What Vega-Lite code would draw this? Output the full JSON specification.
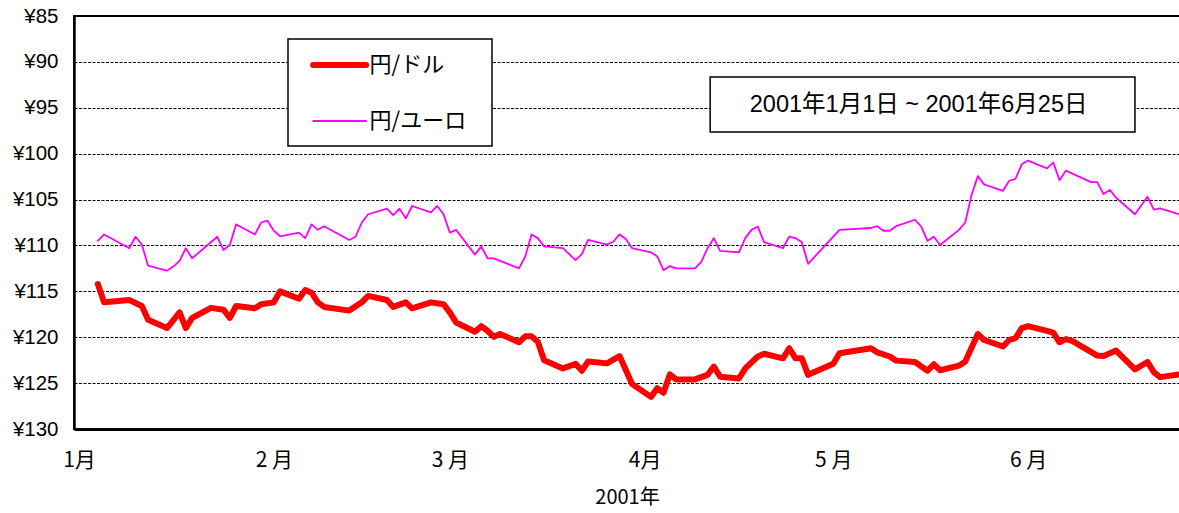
{
  "$schema": "https://vega.github.io/schema/vega-lite/v6.json",
  "autosize": "none",
  "padding": {"left": 74, "top": 16, "right": 0, "bottom": 84},
  "width": 1106,
  "height": 413,
  "background": "white",
  "config": {
    "view": {"stroke": "black", "strokeWidth": 2},
    "axis": {"labelColor": "black", "titleColor": "black"}
  },
  "datasets": {
    "rates": [
      {"date": "2001-01-04", "series": "円/ドル", "rate": 114.2},
      {"date": "2001-01-05", "series": "円/ドル", "rate": 116.2},
      {"date": "2001-01-09", "series": "円/ドル", "rate": 115.95},
      {"date": "2001-01-11", "series": "円/ドル", "rate": 116.6},
      {"date": "2001-01-12", "series": "円/ドル", "rate": 118.1},
      {"date": "2001-01-15", "series": "円/ドル", "rate": 119.0},
      {"date": "2001-01-17", "series": "円/ドル", "rate": 117.3},
      {"date": "2001-01-18", "series": "円/ドル", "rate": 119.0},
      {"date": "2001-01-19", "series": "円/ドル", "rate": 117.9},
      {"date": "2001-01-22", "series": "円/ドル", "rate": 116.8},
      {"date": "2001-01-24", "series": "円/ドル", "rate": 117.0},
      {"date": "2001-01-25", "series": "円/ドル", "rate": 117.9},
      {"date": "2001-01-26", "series": "円/ドル", "rate": 116.6},
      {"date": "2001-01-29", "series": "円/ドル", "rate": 116.85},
      {"date": "2001-01-30", "series": "円/ドル", "rate": 116.4},
      {"date": "2001-02-01", "series": "円/ドル", "rate": 116.2},
      {"date": "2001-02-02", "series": "円/ドル", "rate": 115.0},
      {"date": "2001-02-05", "series": "円/ドル", "rate": 115.8},
      {"date": "2001-02-06", "series": "円/ドル", "rate": 114.85},
      {"date": "2001-02-07", "series": "円/ドル", "rate": 115.15},
      {"date": "2001-02-08", "series": "円/ドル", "rate": 116.2},
      {"date": "2001-02-09", "series": "円/ドル", "rate": 116.7},
      {"date": "2001-02-13", "series": "円/ドル", "rate": 117.1},
      {"date": "2001-02-15", "series": "円/ドル", "rate": 116.2},
      {"date": "2001-02-16", "series": "円/ドル", "rate": 115.5},
      {"date": "2001-02-19", "series": "円/ドル", "rate": 115.95},
      {"date": "2001-02-20", "series": "円/ドル", "rate": 116.7},
      {"date": "2001-02-22", "series": "円/ドル", "rate": 116.2},
      {"date": "2001-02-23", "series": "円/ドル", "rate": 116.85},
      {"date": "2001-02-26", "series": "円/ドル", "rate": 116.2},
      {"date": "2001-02-28", "series": "円/ドル", "rate": 116.4},
      {"date": "2001-03-01", "series": "円/ドル", "rate": 117.3},
      {"date": "2001-03-02", "series": "円/ドル", "rate": 118.4},
      {"date": "2001-03-05", "series": "円/ドル", "rate": 119.4},
      {"date": "2001-03-06", "series": "円/ドル", "rate": 118.8},
      {"date": "2001-03-07", "series": "円/ドル", "rate": 119.3},
      {"date": "2001-03-08", "series": "円/ドル", "rate": 119.95},
      {"date": "2001-03-09", "series": "円/ドル", "rate": 119.65},
      {"date": "2001-03-12", "series": "円/ドル", "rate": 120.55},
      {"date": "2001-03-13", "series": "円/ドル", "rate": 119.9},
      {"date": "2001-03-14", "series": "円/ドル", "rate": 119.9},
      {"date": "2001-03-15", "series": "円/ドル", "rate": 120.5},
      {"date": "2001-03-16", "series": "円/ドル", "rate": 122.5},
      {"date": "2001-03-19", "series": "円/ドル", "rate": 123.4},
      {"date": "2001-03-21", "series": "円/ドル", "rate": 122.9},
      {"date": "2001-03-22", "series": "円/ドル", "rate": 123.65},
      {"date": "2001-03-23", "series": "円/ドル", "rate": 122.65},
      {"date": "2001-03-26", "series": "円/ドル", "rate": 122.85},
      {"date": "2001-03-28", "series": "円/ドル", "rate": 122.05},
      {"date": "2001-03-30", "series": "円/ドル", "rate": 125.1},
      {"date": "2001-04-02", "series": "円/ドル", "rate": 126.5},
      {"date": "2001-04-03", "series": "円/ドル", "rate": 125.55},
      {"date": "2001-04-04", "series": "円/ドル", "rate": 126.05},
      {"date": "2001-04-05", "series": "円/ドル", "rate": 124.05},
      {"date": "2001-04-06", "series": "円/ドル", "rate": 124.6},
      {"date": "2001-04-09", "series": "円/ドル", "rate": 124.6},
      {"date": "2001-04-11", "series": "円/ドル", "rate": 124.1},
      {"date": "2001-04-12", "series": "円/ドル", "rate": 123.2},
      {"date": "2001-04-13", "series": "円/ドル", "rate": 124.3},
      {"date": "2001-04-16", "series": "円/ドル", "rate": 124.5},
      {"date": "2001-04-17", "series": "円/ドル", "rate": 123.4},
      {"date": "2001-04-19", "series": "円/ドル", "rate": 122.1},
      {"date": "2001-04-20", "series": "円/ドル", "rate": 121.8},
      {"date": "2001-04-23", "series": "円/ドル", "rate": 122.3},
      {"date": "2001-04-24", "series": "円/ドル", "rate": 121.2},
      {"date": "2001-04-25", "series": "円/ドル", "rate": 122.3},
      {"date": "2001-04-26", "series": "円/ドル", "rate": 122.3},
      {"date": "2001-04-27", "series": "円/ドル", "rate": 124.1},
      {"date": "2001-05-01", "series": "円/ドル", "rate": 122.9},
      {"date": "2001-05-02", "series": "円/ドル", "rate": 121.75},
      {"date": "2001-05-07", "series": "円/ドル", "rate": 121.2},
      {"date": "2001-05-08", "series": "円/ドル", "rate": 121.65},
      {"date": "2001-05-10", "series": "円/ドル", "rate": 122.1},
      {"date": "2001-05-11", "series": "円/ドル", "rate": 122.55},
      {"date": "2001-05-14", "series": "円/ドル", "rate": 122.7},
      {"date": "2001-05-16", "series": "円/ドル", "rate": 123.65},
      {"date": "2001-05-17", "series": "円/ドル", "rate": 122.95},
      {"date": "2001-05-18", "series": "円/ドル", "rate": 123.6},
      {"date": "2001-05-21", "series": "円/ドル", "rate": 123.1},
      {"date": "2001-05-22", "series": "円/ドル", "rate": 122.65},
      {"date": "2001-05-24", "series": "円/ドル", "rate": 119.65},
      {"date": "2001-05-25", "series": "円/ドル", "rate": 120.3},
      {"date": "2001-05-28", "series": "円/ドル", "rate": 121.0},
      {"date": "2001-05-29", "series": "円/ドル", "rate": 120.3},
      {"date": "2001-05-30", "series": "円/ドル", "rate": 120.1},
      {"date": "2001-05-31", "series": "円/ドル", "rate": 119.0},
      {"date": "2001-06-01", "series": "円/ドル", "rate": 118.8},
      {"date": "2001-06-04", "series": "円/ドル", "rate": 119.3},
      {"date": "2001-06-05", "series": "円/ドル", "rate": 119.5},
      {"date": "2001-06-06", "series": "円/ドル", "rate": 120.55},
      {"date": "2001-06-07", "series": "円/ドル", "rate": 120.2},
      {"date": "2001-06-08", "series": "円/ドル", "rate": 120.4},
      {"date": "2001-06-11", "series": "円/ドル", "rate": 121.6},
      {"date": "2001-06-12", "series": "円/ドル", "rate": 122.0},
      {"date": "2001-06-13", "series": "円/ドル", "rate": 122.05},
      {"date": "2001-06-14", "series": "円/ドル", "rate": 121.75},
      {"date": "2001-06-15", "series": "円/ドル", "rate": 121.45},
      {"date": "2001-06-18", "series": "円/ドル", "rate": 123.5},
      {"date": "2001-06-20", "series": "円/ドル", "rate": 122.7},
      {"date": "2001-06-21", "series": "円/ドル", "rate": 123.8},
      {"date": "2001-06-22", "series": "円/ドル", "rate": 124.35},
      {"date": "2001-06-25", "series": "円/ドル", "rate": 124.05},

      {"date": "2001-01-04", "series": "円/ユーロ", "rate": 109.5},
      {"date": "2001-01-05", "series": "円/ユーロ", "rate": 108.8},
      {"date": "2001-01-09", "series": "円/ユーロ", "rate": 110.3},
      {"date": "2001-01-10", "series": "円/ユーロ", "rate": 109.05},
      {"date": "2001-01-11", "series": "円/ユーロ", "rate": 109.9},
      {"date": "2001-01-12", "series": "円/ユーロ", "rate": 112.2},
      {"date": "2001-01-15", "series": "円/ユーロ", "rate": 112.75},
      {"date": "2001-01-16", "series": "円/ユーロ", "rate": 112.3},
      {"date": "2001-01-17", "series": "円/ユーロ", "rate": 111.7},
      {"date": "2001-01-18", "series": "円/ユーロ", "rate": 110.3},
      {"date": "2001-01-19", "series": "円/ユーロ", "rate": 111.4},
      {"date": "2001-01-23", "series": "円/ユーロ", "rate": 109.05},
      {"date": "2001-01-24", "series": "円/ユーロ", "rate": 110.5},
      {"date": "2001-01-25", "series": "円/ユーロ", "rate": 109.95},
      {"date": "2001-01-26", "series": "円/ユーロ", "rate": 107.7},
      {"date": "2001-01-29", "series": "円/ユーロ", "rate": 108.8},
      {"date": "2001-01-30", "series": "円/ユーロ", "rate": 107.5},
      {"date": "2001-01-31", "series": "円/ユーロ", "rate": 107.3},
      {"date": "2001-02-01", "series": "円/ユーロ", "rate": 108.4},
      {"date": "2001-02-02", "series": "円/ユーロ", "rate": 109.0},
      {"date": "2001-02-05", "series": "円/ユーロ", "rate": 108.6},
      {"date": "2001-02-06", "series": "円/ユーロ", "rate": 109.2},
      {"date": "2001-02-07", "series": "円/ユーロ", "rate": 107.7},
      {"date": "2001-02-08", "series": "円/ユーロ", "rate": 108.3},
      {"date": "2001-02-09", "series": "円/ユーロ", "rate": 107.9},
      {"date": "2001-02-13", "series": "円/ユーロ", "rate": 109.4},
      {"date": "2001-02-14", "series": "円/ユーロ", "rate": 109.05},
      {"date": "2001-02-15", "series": "円/ユーロ", "rate": 107.5},
      {"date": "2001-02-16", "series": "円/ユーロ", "rate": 106.6},
      {"date": "2001-02-19", "series": "円/ユーロ", "rate": 106.0},
      {"date": "2001-02-20", "series": "円/ユーロ", "rate": 106.7},
      {"date": "2001-02-21", "series": "円/ユーロ", "rate": 106.0},
      {"date": "2001-02-22", "series": "円/ユーロ", "rate": 107.05},
      {"date": "2001-02-23", "series": "円/ユーロ", "rate": 105.7},
      {"date": "2001-02-26", "series": "円/ユーロ", "rate": 106.4},
      {"date": "2001-02-27", "series": "円/ユーロ", "rate": 105.7},
      {"date": "2001-02-28", "series": "円/ユーロ", "rate": 106.6},
      {"date": "2001-03-01", "series": "円/ユーロ", "rate": 108.6},
      {"date": "2001-03-02", "series": "円/ユーロ", "rate": 108.3},
      {"date": "2001-03-05", "series": "円/ユーロ", "rate": 111.0},
      {"date": "2001-03-06", "series": "円/ユーロ", "rate": 110.1},
      {"date": "2001-03-07", "series": "円/ユーロ", "rate": 111.4},
      {"date": "2001-03-08", "series": "円/ユーロ", "rate": 111.4},
      {"date": "2001-03-12", "series": "円/ユーロ", "rate": 112.5},
      {"date": "2001-03-13", "series": "円/ユーロ", "rate": 111.2},
      {"date": "2001-03-14", "series": "円/ユーロ", "rate": 108.8},
      {"date": "2001-03-15", "series": "円/ユーロ", "rate": 109.2},
      {"date": "2001-03-16", "series": "円/ユーロ", "rate": 110.1},
      {"date": "2001-03-19", "series": "円/ユーロ", "rate": 110.3},
      {"date": "2001-03-21", "series": "円/ユーロ", "rate": 111.6},
      {"date": "2001-03-22", "series": "円/ユーロ", "rate": 110.95},
      {"date": "2001-03-23", "series": "円/ユーロ", "rate": 109.4},
      {"date": "2001-03-26", "series": "円/ユーロ", "rate": 109.9},
      {"date": "2001-03-27", "series": "円/ユーロ", "rate": 109.6},
      {"date": "2001-03-28", "series": "円/ユーロ", "rate": 108.8},
      {"date": "2001-03-29", "series": "円/ユーロ", "rate": 109.3},
      {"date": "2001-03-30", "series": "円/ユーロ", "rate": 110.3},
      {"date": "2001-04-02", "series": "円/ユーロ", "rate": 110.75},
      {"date": "2001-04-03", "series": "円/ユーロ", "rate": 111.2},
      {"date": "2001-04-04", "series": "円/ユーロ", "rate": 112.7},
      {"date": "2001-04-05", "series": "円/ユーロ", "rate": 112.25},
      {"date": "2001-04-06", "series": "円/ユーロ", "rate": 112.5},
      {"date": "2001-04-09", "series": "円/ユーロ", "rate": 112.5},
      {"date": "2001-04-10", "series": "円/ユーロ", "rate": 111.8},
      {"date": "2001-04-11", "series": "円/ユーロ", "rate": 110.3},
      {"date": "2001-04-12", "series": "円/ユーロ", "rate": 109.2},
      {"date": "2001-04-13", "series": "円/ユーロ", "rate": 110.6},
      {"date": "2001-04-16", "series": "円/ユーロ", "rate": 110.75},
      {"date": "2001-04-17", "series": "円/ユーロ", "rate": 109.2},
      {"date": "2001-04-18", "series": "円/ユーロ", "rate": 108.3},
      {"date": "2001-04-19", "series": "円/ユーロ", "rate": 107.95},
      {"date": "2001-04-20", "series": "円/ユーロ", "rate": 109.65},
      {"date": "2001-04-23", "series": "円/ユーロ", "rate": 110.3},
      {"date": "2001-04-24", "series": "円/ユーロ", "rate": 109.05},
      {"date": "2001-04-25", "series": "円/ユーロ", "rate": 109.2},
      {"date": "2001-04-26", "series": "円/ユーロ", "rate": 109.65},
      {"date": "2001-04-27", "series": "円/ユーロ", "rate": 112.0},
      {"date": "2001-05-02", "series": "円/ユーロ", "rate": 108.3},
      {"date": "2001-05-07", "series": "円/ユーロ", "rate": 108.1},
      {"date": "2001-05-08", "series": "円/ユーロ", "rate": 107.9},
      {"date": "2001-05-09", "series": "円/ユーロ", "rate": 108.4},
      {"date": "2001-05-10", "series": "円/ユーロ", "rate": 108.4},
      {"date": "2001-05-11", "series": "円/ユーロ", "rate": 107.9},
      {"date": "2001-05-14", "series": "円/ユーロ", "rate": 107.2},
      {"date": "2001-05-15", "series": "円/ユーロ", "rate": 107.95},
      {"date": "2001-05-16", "series": "円/ユーロ", "rate": 109.5},
      {"date": "2001-05-17", "series": "円/ユーロ", "rate": 109.05},
      {"date": "2001-05-18", "series": "円/ユーロ", "rate": 109.95},
      {"date": "2001-05-21", "series": "円/ユーロ", "rate": 108.3},
      {"date": "2001-05-22", "series": "円/ユーロ", "rate": 107.5},
      {"date": "2001-05-23", "series": "円/ユーロ", "rate": 104.5},
      {"date": "2001-05-24", "series": "円/ユーロ", "rate": 102.45},
      {"date": "2001-05-25", "series": "円/ユーロ", "rate": 103.35},
      {"date": "2001-05-28", "series": "円/ユーロ", "rate": 104.05},
      {"date": "2001-05-29", "series": "円/ユーロ", "rate": 102.95},
      {"date": "2001-05-30", "series": "円/ユーロ", "rate": 102.75},
      {"date": "2001-05-31", "series": "円/ユーロ", "rate": 101.15},
      {"date": "2001-06-01", "series": "円/ユーロ", "rate": 100.75},
      {"date": "2001-06-04", "series": "円/ユーロ", "rate": 101.6},
      {"date": "2001-06-05", "series": "円/ユーロ", "rate": 100.95},
      {"date": "2001-06-06", "series": "円/ユーロ", "rate": 102.9},
      {"date": "2001-06-07", "series": "円/ユーロ", "rate": 101.85},
      {"date": "2001-06-11", "series": "円/ユーロ", "rate": 103.1},
      {"date": "2001-06-12", "series": "円/ユーロ", "rate": 103.1},
      {"date": "2001-06-13", "series": "円/ユーロ", "rate": 104.4},
      {"date": "2001-06-14", "series": "円/ユーロ", "rate": 103.95},
      {"date": "2001-06-15", "series": "円/ユーロ", "rate": 104.8},
      {"date": "2001-06-18", "series": "円/ユーロ", "rate": 106.6},
      {"date": "2001-06-20", "series": "円/ユーロ", "rate": 104.7},
      {"date": "2001-06-21", "series": "円/ユーロ", "rate": 106.1},
      {"date": "2001-06-22", "series": "円/ユーロ", "rate": 105.95},
      {"date": "2001-06-25", "series": "円/ユーロ", "rate": 106.6}
    ]
  },
  "layer": [
    {
      "data": {"name": "rates"},
      "mark": {"type": "line", "strokeJoin": "round", "strokeCap": "round", "clip": true},
      "encoding": {
        "x": {
          "field": "date", "type": "temporal",
          "scale": {"type": "utc", "domain": [
            {"year": 2000, "month": 12, "date": 31, "hours": 5, "utc": true},
            {"year": 2001, "month": 6, "date": 25, "hours": 4, "utc": true}
          ]},
          "axis": {
            "values": [
              {"year": 2001, "month": 1, "date": 1, "utc": true},
              {"year": 2001, "month": 2, "date": 1, "utc": true},
              {"year": 2001, "month": 3, "date": 1, "utc": true},
              {"year": 2001, "month": 4, "date": 1, "utc": true},
              {"year": 2001, "month": 5, "date": 1, "utc": true},
              {"year": 2001, "month": 6, "date": 1, "utc": true}
            ],
            "labelExpr": "utcFormat(datum.value, '%-m') + ((utcmonth(datum.value) == 0 || utcmonth(datum.value) == 3) ? '月' : ' 月')",
            "ticks": false,
            "grid": false,
            "domainColor": "black",
            "domainWidth": 3,
            "labelFont": "Noto Sans CJK JP",
            "labelFontSize": 21,
            "labelPadding": 20,
            "labelFlush": false,
            "title": "2001年",
            "titleFont": "Noto Sans CJK JP",
            "titleFontSize": 20,
            "titleFontWeight": "normal",
            "titlePadding": 17
          }
        },
        "y": {
          "field": "rate", "type": "quantitative",
          "scale": {"domain": [85, 130], "reverse": true, "nice": false, "zero": false},
          "axis": {
            "values": [85, 90, 95, 100, 105, 110, 115, 120, 125, 130],
            "labelExpr": "'¥' + datum.value",
            "ticks": false,
            "grid": true,
            "gridColor": "black",
            "gridDash": [3, 1.5],
            "gridWidth": 1.2,
            "gridOpacity": 1,
            "domainColor": "black",
            "domainWidth": 2.5,
            "labelFont": "Liberation Sans",
            "labelFontSize": 20.5,
            "labelPadding": 16,
            "title": null
          }
        },
        "color": {
          "field": "series", "type": "nominal",
          "scale": {"domain": ["円/ドル", "円/ユーロ"], "range": ["#FF0000", "#FF00FF"]},
          "legend": {
            "orient": "none",
            "legendX": 214,
            "legendY": 23,
            "title": " ",
            "titleOrient": "right",
            "titleFontSize": 4,
            "titlePadding": 12,
            "direction": "vertical",
            "symbolType": "M-3,0H3",
            "symbolSize": 312,
            "symbolOffset": 25.6,
            "labelOffset": 18,
            "rowPadding": 33,
            "padding": 14,
            "strokeColor": "black",
            "fillColor": "white",
            "labelFont": "Noto Sans CJK JP",
            "labelFontSize": 22,
            "labelColor": "black",
            "encode": {
              "symbols": {"update": {
                "strokeWidth": {"signal": "datum.value === '円/ドル' ? 6 : 1.8"},
                "strokeCap": {"value": "round"}
              }},
              "legend": {"update": {"strokeWidth": {"value": 1.5}}}
            }
          }
        },
        "strokeWidth": {
          "field": "series", "type": "nominal",
          "scale": {"domain": ["円/ドル", "円/ユーロ"], "range": [6, 1.8]},
          "legend": null
        }
      }
    },
    {
      "data": {"values": [{}]},
      "mark": {"type": "rect", "fill": "white", "stroke": "black", "strokeWidth": 1.5},
      "encoding": {
        "x": {"datum": {"year": 2001, "month": 4, "date": 11, "hours": 10, "utc": true}, "type": "temporal"},
        "x2": {"datum": {"year": 2001, "month": 6, "date": 18, "hours": 0, "utc": true}},
        "y": {"datum": 91.65, "type": "quantitative"},
        "y2": {"datum": 97.64}
      }
    },
    {
      "data": {"values": [{}]},
      "mark": {"type": "text", "font": "Liberation Sans, Noto Sans CJK JP", "fontSize": 23.5, "color": "black", "align": "center", "baseline": "middle"},
      "encoding": {
        "x": {"datum": {"year": 2001, "month": 5, "date": 14, "hours": 14, "utc": true}, "type": "temporal"},
        "y": {"datum": 94.7, "type": "quantitative"},
        "text": {"value": "2001年1月1日 ~ 2001年6月25日"}
      }
    }
  ]
}
